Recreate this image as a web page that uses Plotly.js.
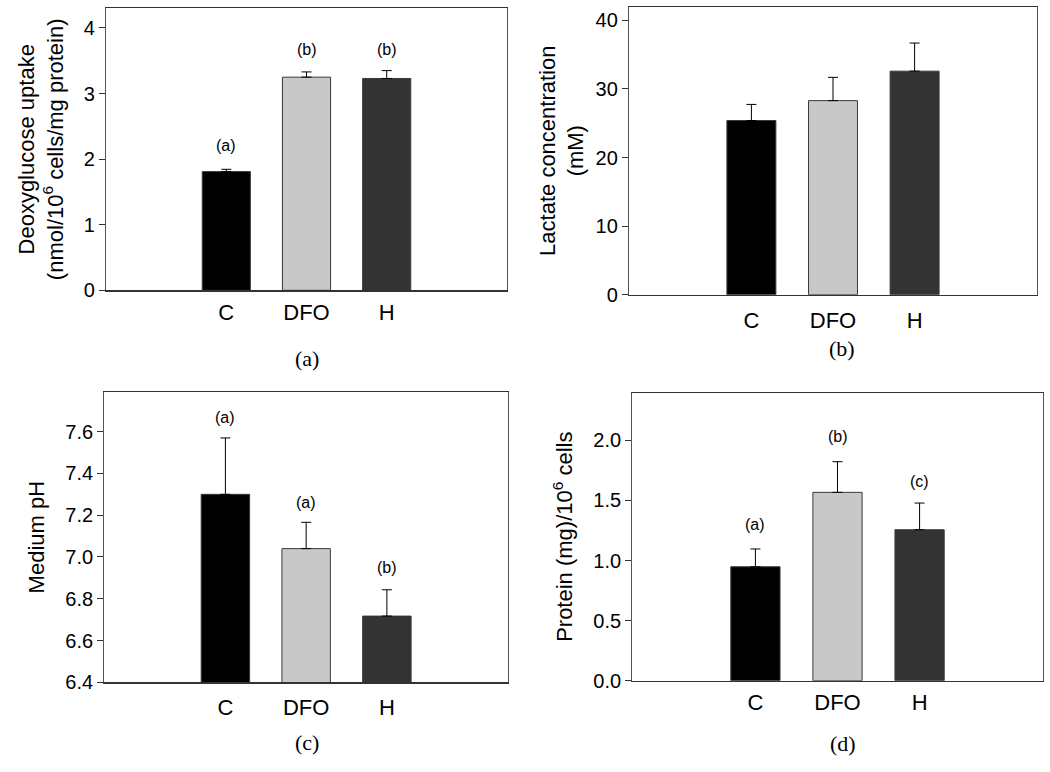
<!DOCTYPE html>
<html>
<head>
<meta charset="utf-8">
<script src="https://cdn.plot.ly/plotly-3.0.1.min.js"></script>
<style>html,body{margin:0;padding:0;background:#fff;}</style>
</head>
<body>
<div id="chart" style="width:1050px;height:772px;"></div>
<script>
// ---- data ----
const categories = ["C", "DFO", "H"];
const barColors = ["#000000", "#c8c8c8", "#333333"];

const deoxyglucose = [1.81, 3.25, 3.23];
const deoxyglucoseErr = [0.035, 0.08, 0.12];
const deoxyglucoseLetters = ["(a)", "(b)", "(b)"];
const deoxyglucoseLetterY = [2.21, 3.67, 3.67];

const lactate = [25.4, 28.3, 32.6];
const lactateErr = [2.35, 3.4, 4.1];

const mediumPH = [7.30, 7.04, 6.717];
const mediumPHErr = [0.27, 0.126, 0.126];
const mediumPHLetters = ["(a)", "(a)", "(b)"];
const mediumPHLetterY = [7.67, 7.26, 6.95];

const protein = [0.948, 1.567, 1.256];
const proteinErr = [0.148, 0.255, 0.222];
const proteinLetters = ["(a)", "(b)", "(c)"];
const proteinLetterY = [1.30, 2.03, 1.656];

const panelCaptions = ["(a)", "(b)", "(c)", "(d)"];
const yTitles = [
  "Deoxyglucose uptake<br>(nmol/10<sup>6</sup> cells/mg protein)",
  "Lactate concentration<br>(mM)",
  "Medium pH",
  "Protein (mg)/10<sup>6</sup> cells"
];

// ---- build ----
const SANS = "Liberation Sans, Arial, sans-serif";
const SERIF = "Liberation Serif, Times New Roman, serif";
const xIdx = [0, 1, 2];

function barTrace(vals, errs, n) {
  return {
    type: "bar",
    x: xIdx,
    y: vals,
    width: 0.6,
    marker: {color: barColors, line: {color: "#3a3a3a", width: 1}},
    error_y: {type: "data", symmetric: false, array: errs, arrayminus: vals.map(() => 0),
              color: "#000", thickness: 1, width: 5},
    xaxis: "x" + (n === 1 ? "" : n),
    yaxis: "y" + (n === 1 ? "" : n),
    showlegend: false,
    hoverinfo: "x+y"
  };
}

const data = [
  barTrace(deoxyglucose, deoxyglucoseErr, 1),
  barTrace(lactate, lactateErr, 2),
  barTrace(mediumPH, mediumPHErr, 3),
  barTrace(protein, proteinErr, 4)
];

const W = 1050, H = 772;
const boxes = [
  {l: 106, r: 507, t: 8.3, b: 290.3},
  {l: 629, r: 1037, t: 6.7, b: 294.7},
  {l: 104.3, r: 508, t: 392, b: 682.3},
  {l: 632.3, r: 1042.7, t: 392.7, b: 680.7}
];
const yRanges = [[0, 4.3], [0, 42], [6.4, 7.79], [0, 2.396]];
const yDticks = [1, 10, 0.2, 0.5];
const yFormats = ["d", "d", ".1f", ".1f"];
const standoffs = [14, 5, 14, 14];
const xLabelPad = [2, 6, 5, 2];

const layout = {
  width: W, height: H,
  margin: {l: 0, r: 0, t: 0, b: 0},
  paper_bgcolor: "#fff", plot_bgcolor: "#fff",
  font: {family: SANS, color: "#000"},
  bargap: 0.4,
  annotations: [],
  showlegend: false
};

boxes.forEach((bx, i) => {
  const n = i + 1;
  const sx = n === 1 ? "" : String(n);
  layout["xaxis" + sx] = {
    domain: [bx.l / W, bx.r / W],
    anchor: "y" + sx,
    range: [-1.5, 3.5],
    tickmode: "array", tickvals: xIdx, ticktext: categories,
    ticks: "outside", ticklen: xLabelPad[i], tickcolor: "rgba(0,0,0,0)",
    tickfont: {family: SANS, size: 22, color: "#000"},
    showline: true, linecolor: "#333", linewidth: 1.2, mirror: true,
    showgrid: false, zeroline: false, fixedrange: true
  };
  layout["yaxis" + sx] = {
    domain: [1 - bx.b / H, 1 - bx.t / H],
    anchor: "x" + sx,
    range: yRanges[i],
    dtick: yDticks[i], tick0: 0, tickformat: yFormats[i],
    ticks: "outside", ticklen: 6, tickcolor: "#333", tickwidth: 1,
    tickfont: {family: SANS, size: 20, color: "#000"},
    showline: true, linecolor: "#555", linewidth: 1.2, mirror: true,
    showgrid: false, zeroline: false, fixedrange: true,
    title: {text: yTitles[i], font: {family: SANS, size: 22, color: "#000"}, standoff: standoffs[i]}
  };
  layout["yaxis" + (n + 4)] = {
    overlaying: "y" + sx, anchor: "x" + sx, side: "right",
    range: yRanges[i], dtick: yDticks[i], tick0: 0,
    ticks: "inside", ticklen: 5, tickcolor: "#333", tickwidth: 1,
    showticklabels: false, showline: false, showgrid: false, zeroline: false, fixedrange: true
  };
});

function addLetters(letters, ys, n) {
  const sx = n === 1 ? "" : String(n);
  letters.forEach((t, k) => {
    layout.annotations.push({
      text: t, x: xIdx[k], y: ys[k], xref: "x" + sx, yref: "y" + sx,
      showarrow: false, font: {family: SANS, size: 16, color: "#000"}
    });
  });
}
addLetters(deoxyglucoseLetters, deoxyglucoseLetterY, 1);
addLetters(mediumPHLetters, mediumPHLetterY, 3);
addLetters(proteinLetters, proteinLetterY, 4);

const captionPos = [[307, 358], [842, 348], [307, 742], [843, 743]];
panelCaptions.forEach((c, i) => {
  layout.annotations.push({
    text: c, xref: "paper", yref: "paper",
    x: captionPos[i][0] / W, y: 1 - captionPos[i][1] / H,
    xanchor: "center", yanchor: "middle", showarrow: false,
    font: {family: SERIF, size: 22, color: "#000"}
  });
});

Plotly.newPlot("chart", data, layout, {displayModeBar: false, staticPlot: true});
</script>
</body>
</html>
